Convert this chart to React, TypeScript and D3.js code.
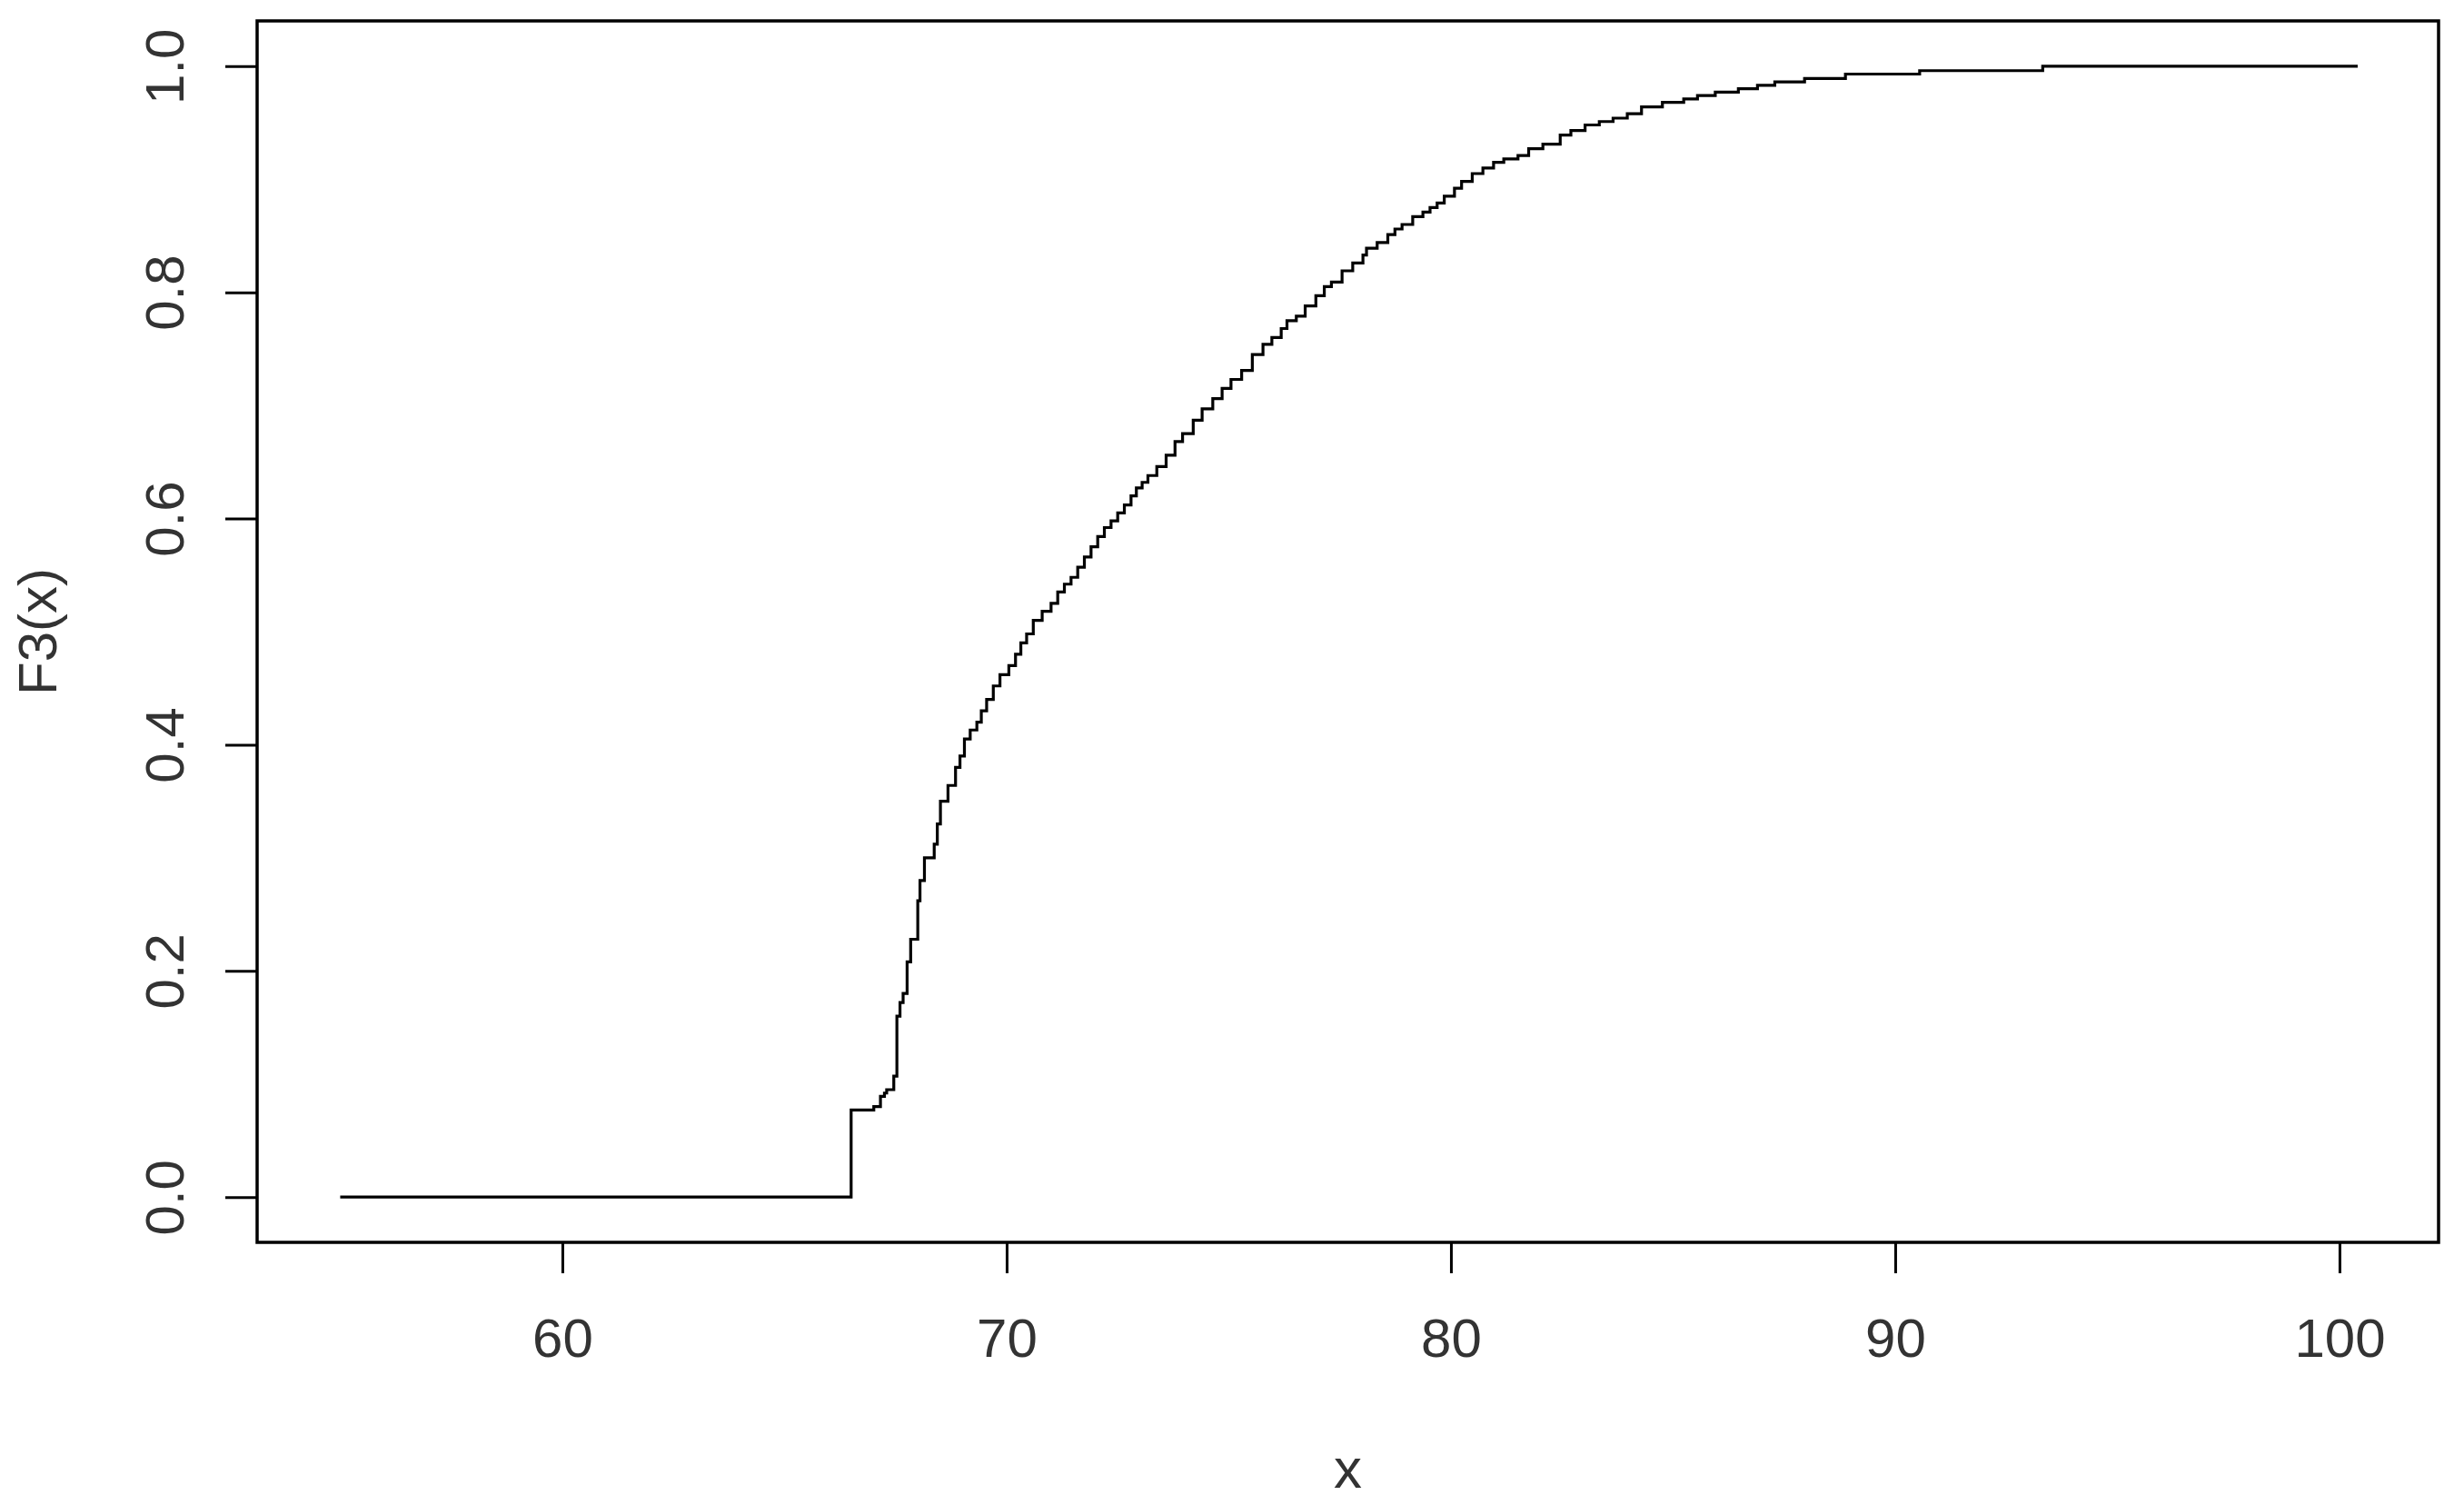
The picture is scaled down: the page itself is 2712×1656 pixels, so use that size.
import React, { useEffect, useRef } from "react";
import * as d3 from "d3";

// step positions of the empirical cdf (x) and the value after each step (F3)
const stepX = [
  55.0, 66.5, 67.01, 67.16, 67.25, 67.3, 67.46, 67.53, 67.6, 67.67, 67.76, 67.84,
  68.0, 68.05, 68.15, 68.37, 68.44, 68.51, 68.68, 68.85, 68.95, 69.05, 69.18, 69.33,
  69.43, 69.55, 69.7, 69.85, 70.05, 70.2, 70.32, 70.45, 70.6, 70.8, 71.0, 71.15,
  71.3, 71.45, 71.6, 71.75, 71.9, 72.05, 72.2, 72.35, 72.5, 72.65, 72.8, 72.92,
  73.05, 73.18, 73.38, 73.59, 73.79, 73.96, 74.2, 74.4, 74.64, 74.85, 75.05, 75.29,
  75.53, 75.77, 75.97, 76.18, 76.31, 76.52, 76.72, 76.96, 77.15, 77.31, 77.55, 77.79,
  78.02, 78.1, 78.34, 78.58, 78.74, 78.9, 79.14, 79.37, 79.53, 79.69, 79.85, 80.08,
  80.24, 80.48, 80.72, 80.96, 81.19, 81.51, 81.75, 82.07, 82.46, 82.7, 83.02, 83.34,
  83.65, 83.97, 84.29, 84.76, 85.24, 85.55, 85.95, 86.47, 86.9, 87.29, 87.96, 88.88,
  90.55, 93.32, 100.41,
];
const stepF = [
  0.0, 0.077, 0.08, 0.089, 0.092, 0.095, 0.107, 0.16, 0.172, 0.18, 0.208, 0.228,
  0.262, 0.28, 0.3, 0.312, 0.33, 0.35, 0.364, 0.38, 0.39, 0.405, 0.413, 0.42,
  0.43, 0.44, 0.452, 0.462, 0.47, 0.48, 0.49, 0.498, 0.51, 0.518, 0.525, 0.535,
  0.542, 0.548, 0.557, 0.566, 0.575, 0.584, 0.592, 0.598, 0.605, 0.612, 0.62, 0.627,
  0.632, 0.638, 0.646, 0.656, 0.668, 0.675, 0.687, 0.697, 0.706, 0.715, 0.723, 0.731,
  0.745, 0.754, 0.76, 0.768, 0.775, 0.779, 0.788, 0.797, 0.805, 0.809, 0.819, 0.826,
  0.833, 0.839, 0.844, 0.851, 0.856, 0.86, 0.867, 0.871, 0.875, 0.879, 0.885, 0.892,
  0.898, 0.905, 0.91, 0.915, 0.918, 0.921, 0.927, 0.931, 0.939, 0.943, 0.948, 0.951,
  0.954, 0.958, 0.964, 0.968, 0.971, 0.974, 0.977, 0.98, 0.983, 0.986, 0.989, 0.993,
  0.996, 1.0, 1.0,
];

const xTicks = [60, 70, 80, 90, 100];
const yTicks = [0, 0.2, 0.4, 0.6, 0.8, 1.0];
const xTitle = "x";
const yTitle = "F3(x)";

const W = 2712;
const H = 1656;
const box = { left: 283, right: 2684, top: 23, bottom: 1367 };
const font = "'Liberation Sans', Arial, sans-serif";
const textColor = "#333";

export default function App() {
  const ref = useRef<SVGSVGElement>(null);

  useEffect(() => {
    const svg = d3.select(ref.current);
    svg.selectAll("*").remove();

    // R pads the data range by 4% on each side
    const x = d3.scaleLinear().domain([53.13, 102.23]).range([box.left, box.right]);
    const y = d3.scaleLinear().domain([-0.04, 1.04]).range([box.bottom, box.top]);

    svg.append("rect").attr("width", W).attr("height", H).attr("fill", "white");

    const xAxis = svg
      .append("g")
      .attr("transform", `translate(0, ${box.bottom})`)
      .call(
        d3.axisBottom(x).tickValues(xTicks).tickSize(34).tickSizeOuter(0).tickPadding(49)
          .tickFormat(d3.format("d"))
      );
    xAxis.select(".domain").remove();
    xAxis.selectAll("line").attr("stroke", "#000").attr("stroke-width", 3);
    xAxis.selectAll("text")
      .attr("font-family", font).attr("font-size", 60).attr("fill", textColor);

    const yAxis = svg
      .append("g")
      .attr("transform", `translate(${box.left}, 0)`)
      .call(d3.axisLeft(y).tickValues(yTicks).tickSize(35).tickSizeOuter(0).tickFormat(d3.format(".1f")));
    yAxis.select(".domain").remove();
    yAxis.selectAll("line").attr("stroke", "#000").attr("stroke-width", 3);
    yAxis.selectAll("text")
      .attr("font-family", font).attr("font-size", 60).attr("fill", textColor)
      .attr("text-anchor", "middle")
      .attr("transform", "rotate(-90)")
      .attr("x", 0).attr("y", -81).attr("dy", 0);

    svg.append("rect")
      .attr("x", box.left).attr("y", box.top)
      .attr("width", box.right - box.left).attr("height", box.bottom - box.top)
      .attr("fill", "none").attr("stroke", "#000").attr("stroke-width", 3.5);

    const pts: [number, number][] = stepX.map((v, i) => [v, stepF[i]]);
    const line = d3.line<[number, number]>()
      .x(d => x(d[0]))
      .y(d => y(d[1]))
      .curve(d3.curveStepAfter);

    svg.append("path")
      .attr("d", line(pts))
      .attr("fill", "none")
      .attr("stroke", "#000")
      .attr("stroke-width", 3.2);

    svg.append("text")
      .attr("x", (box.left + box.right) / 2).attr("y", 1637)
      .attr("text-anchor", "middle")
      .attr("font-family", font).attr("font-size", 62).attr("fill", textColor)
      .text(xTitle);

    svg.append("text")
      .attr("transform", `translate(62, ${(box.top + box.bottom) / 2}) rotate(-90)`)
      .attr("text-anchor", "middle")
      .attr("font-family", font).attr("font-size", 60).attr("fill", textColor)
      .text(yTitle);
  }, []);

  return (
    <svg
      ref={ref}
      width={W}
      height={H}
      style={{ position: "absolute", left: 0, top: 0, display: "block" }}
    />
  );
}
